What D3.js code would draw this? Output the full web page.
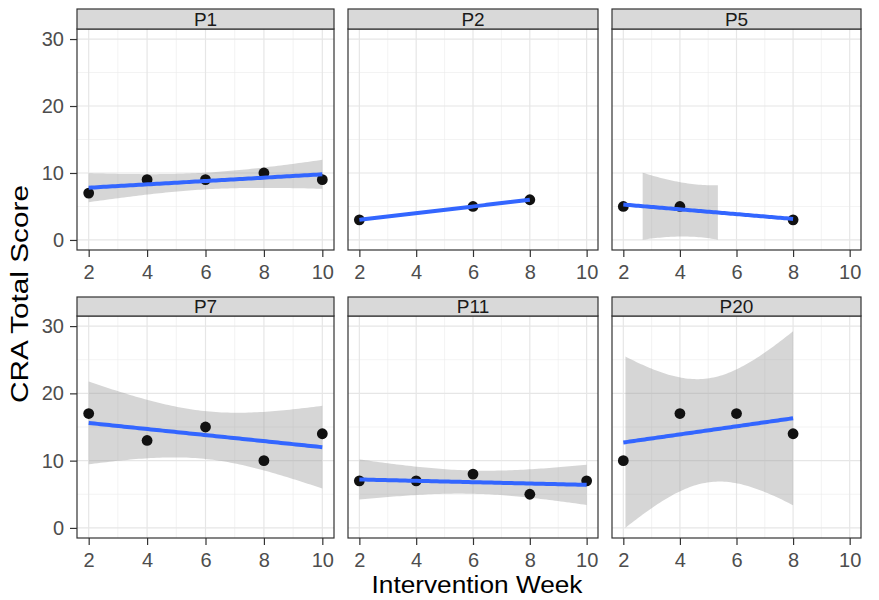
<!DOCTYPE html>
<html>
<head>
<meta charset="utf-8">
<script src="https://cdn.jsdelivr.net/npm/d3@7"></script>
<style>
  body { margin: 0; background: #fff; }
  text { font-family: "Liberation Sans", Arial, sans-serif; }
</style>
</head>
<body>
<div id="chart"></div>
<script>
// facet data (one entry per participant)
const panels = ["P1", "P2", "P5", "P7", "P11", "P20"];
const weeks = [
  [2, 4, 6, 8, 10],
  [2, 6, 8],
  [2, 4, 8],
  [2, 4, 6, 8, 10],
  [2, 4, 6, 8, 10],
  [2, 4, 6, 8]
];
const scores = [
  [7, 9, 9, 10, 9],
  [3, 5, 6],
  [5, 5, 3],
  [17, 13, 15, 10, 14],
  [7, 7, 8, 5, 7],
  [10, 17, 17, 14]
];
const xTicks = [2, 4, 6, 8, 10];
const yTicks = [0, 10, 20, 30];
const yLimits = [0, 30];
// 97.5% t quantiles by residual degrees of freedom
const tQuantile = { 1: 12.706, 2: 4.303, 3: 3.182 };

const width = 879, height = 600;
const colX = [[77, 334], [348, 598], [612, 861]];
const rowY = [{ strip: 9, top: 29, bottom: 250 }, { strip: 297, top: 316, bottom: 538 }];

const svg = d3.select("#chart").append("svg")
  .attr("width", width)
  .attr("height", height);

// like geom_smooth(method = "lm"): fit + 95% band, censored to the y limits
function lmFit(xs, ys) {
  const n = xs.length;
  const mx = d3.mean(xs), my = d3.mean(ys);
  const sxx = d3.sum(xs, x => (x - mx) ** 2);
  const sxy = d3.sum(xs, (x, i) => (x - mx) * (ys[i] - my));
  const b = sxy / sxx, a = my - b * mx;
  const sse = d3.sum(xs, (x, i) => (ys[i] - (a + b * x)) ** 2);
  const s = Math.sqrt(sse / (n - 2));
  const t = tQuantile[n - 2];
  const [x0, x1] = d3.extent(xs);
  return d3.range(80).map(i => {
    const x = x0 + (x1 - x0) * i / 79;
    const fit = a + b * x;
    const se = s * Math.sqrt(1 / n + (x - mx) ** 2 / sxx);
    return { x, fit, lo: fit - t * se, hi: fit + t * se };
  });
}

panels.forEach((name, i) => {
  const col = i % 3, row = Math.floor(i / 3);
  const [left, right] = colX[col];
  const { strip, top, bottom } = rowY[row];

  const x = d3.scaleLinear().domain([1.6, 10.4]).range([left, right]);
  const y = d3.scaleLinear().domain([-1.5, 31.5]).range([bottom, top]);

  const g = svg.append("g");

  // grid
  const minorX = [3, 5, 7, 9], minorY = [5, 15, 25];
  g.selectAll(".minx").data(minorX).join("line")
    .attr("x1", d => x(d)).attr("x2", d => x(d)).attr("y1", top).attr("y2", bottom)
    .attr("stroke", "#ebebeb").attr("stroke-width", 0.6);
  g.selectAll(".miny").data(minorY).join("line")
    .attr("y1", d => y(d)).attr("y2", d => y(d)).attr("x1", left).attr("x2", right)
    .attr("stroke", "#ebebeb").attr("stroke-width", 0.6);
  g.append("g").selectAll("line").data(xTicks).join("line")
    .attr("x1", d => x(d)).attr("x2", d => x(d)).attr("y1", top).attr("y2", bottom)
    .attr("stroke", "#e6e6e6").attr("stroke-width", 1.2);
  g.append("g").selectAll("line").data(yTicks).join("line")
    .attr("y1", d => y(d)).attr("y2", d => y(d)).attr("x1", left).attr("x2", right)
    .attr("stroke", "#e6e6e6").attr("stroke-width", 1.2);

  // smooth
  const fit = lmFit(weeks[i], scores[i]);
  g.append("path")
    .datum(fit)
    .attr("fill", "#999999").attr("fill-opacity", 0.4)
    .attr("d", d3.area()
      .defined(d => d.lo >= yLimits[0] && d.hi <= yLimits[1])
      .x(d => x(d.x)).y0(d => y(d.lo)).y1(d => y(d.hi)));

  // points
  g.append("g").selectAll("circle")
    .data(weeks[i].map((w, k) => [w, scores[i][k]]))
    .join("circle")
    .attr("cx", d => x(d[0])).attr("cy", d => y(d[1]))
    .attr("r", 5.4).attr("fill", "#111");

  g.append("path")
    .datum(fit)
    .attr("fill", "none").attr("stroke", "#3366FF").attr("stroke-width", 4)
    .attr("d", d3.line().x(d => x(d.x)).y(d => y(d.fit)));

  // panel border
  g.append("rect")
    .attr("x", left).attr("y", top).attr("width", right - left).attr("height", bottom - top)
    .attr("fill", "none").attr("stroke", "#333").attr("stroke-width", 1.2);

  // strip
  g.append("rect")
    .attr("x", left).attr("y", strip).attr("width", right - left).attr("height", top - strip)
    .attr("fill", "#d9d9d9").attr("stroke", "#333").attr("stroke-width", 1.2);
  g.append("text")
    .attr("x", (left + right) / 2).attr("y", (strip + top) / 2 + 6.8)
    .attr("text-anchor", "middle").attr("font-size", 19).attr("fill", "#1a1a1a")
    .text(name);

  // x axis on every panel
  const xAxis = g.append("g")
    .attr("transform", `translate(0,${bottom})`)
    .call(d3.axisBottom(x).tickValues(xTicks).tickSize(7).tickPadding(8));
  xAxis.select(".domain").remove();
  xAxis.selectAll("line").attr("stroke", "#333").attr("stroke-width", 1.2);
  xAxis.selectAll("text").attr("font-size", 20).attr("fill", "#4d4d4d")
    .attr("font-family", "Liberation Sans, Arial, sans-serif");

  // y axis on left column only
  if (col === 0) {
    const yAxis = g.append("g")
      .attr("transform", `translate(${left},0)`)
      .call(d3.axisLeft(y).tickValues(yTicks).tickSize(7).tickPadding(6));
    yAxis.select(".domain").remove();
    yAxis.selectAll("line").attr("stroke", "#333").attr("stroke-width", 1.2);
    yAxis.selectAll("text").attr("font-size", 20).attr("fill", "#4d4d4d")
      .attr("font-family", "Liberation Sans, Arial, sans-serif");
  }
});

svg.append("text")
  .attr("x", 477).attr("y", 593)
  .attr("text-anchor", "middle").attr("font-size", 23).attr("fill", "#000")
  .attr("textLength", 211).attr("lengthAdjust", "spacingAndGlyphs")
  .text("Intervention Week");

svg.append("text")
  .attr("transform", "translate(28,294) rotate(-90)")
  .attr("text-anchor", "middle").attr("font-size", 23).attr("fill", "#000")
  .attr("textLength", 218).attr("lengthAdjust", "spacingAndGlyphs")
  .text("CRA Total Score");
</script>
</body>
</html>
